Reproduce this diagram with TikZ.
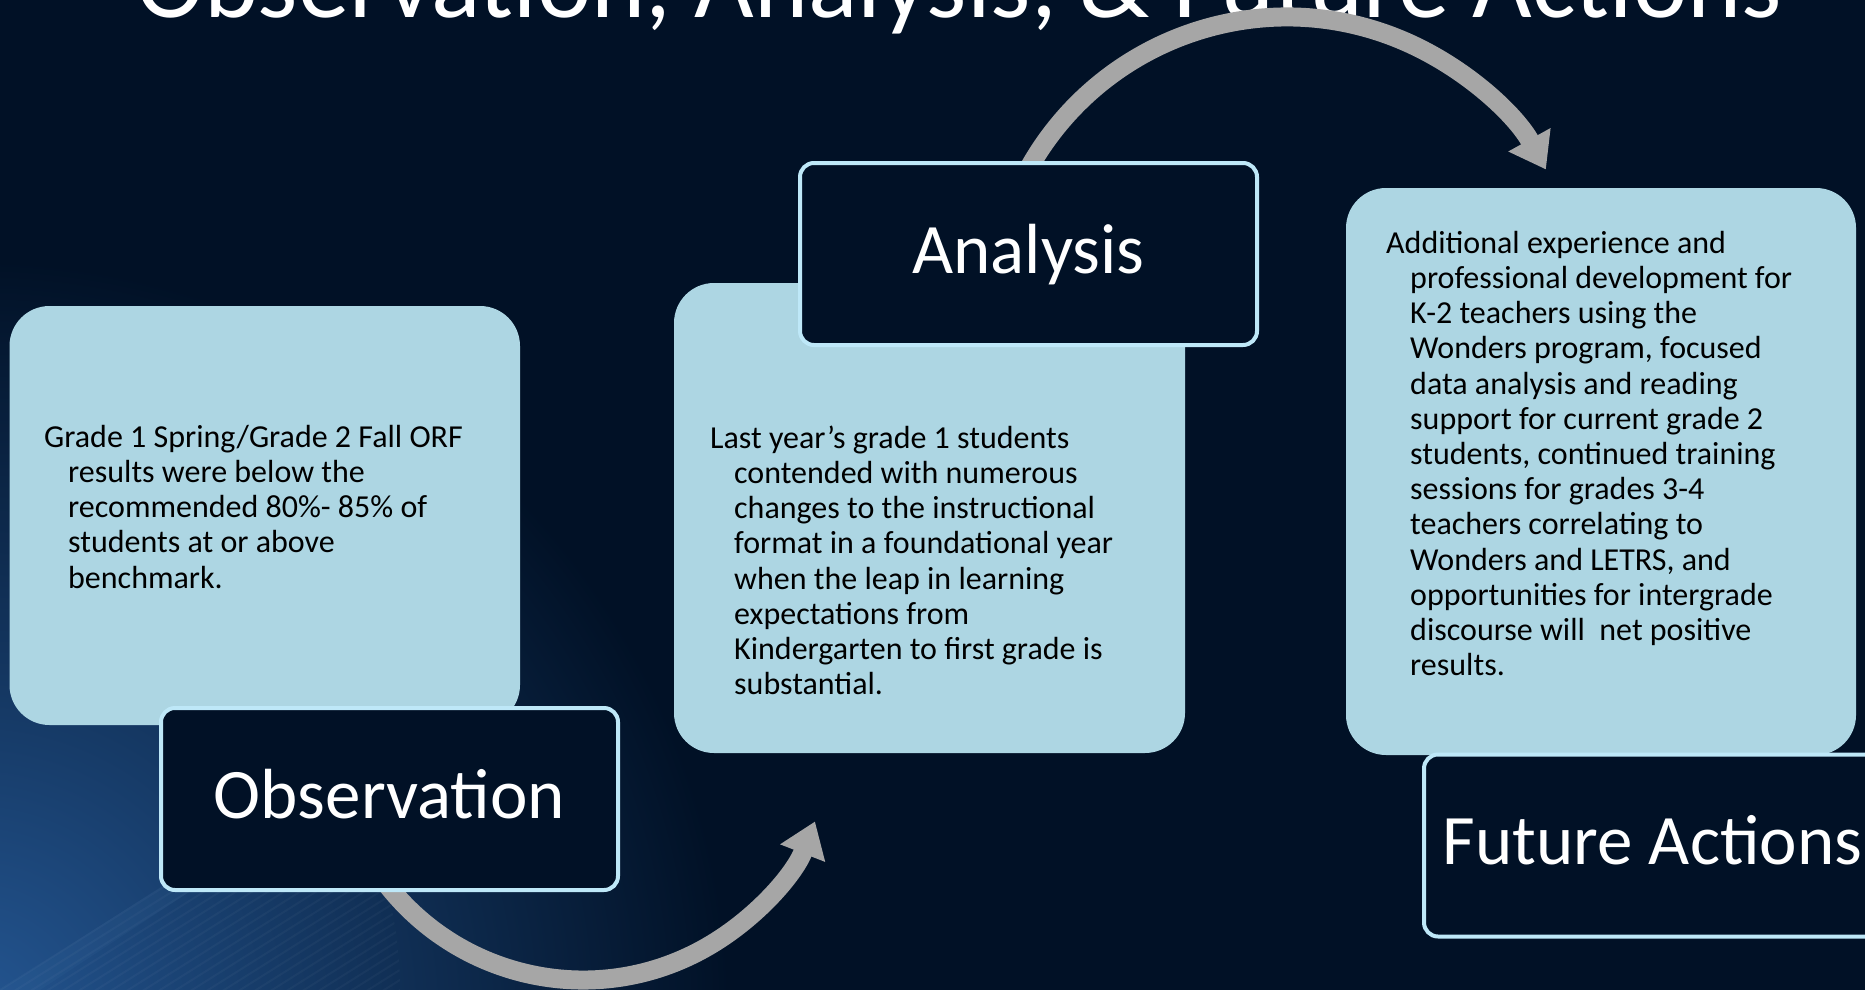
\documentclass[tikz,border=0pt]{standalone}
\usepackage{fontspec}
\setmainfont{Carlito}
\usetikzlibrary{arrows.meta}
\definecolor{bg}{RGB}{1,17,38}
\definecolor{boxblue}{RGB}{173,214,227}
\definecolor{rim}{RGB}{190,232,248}
\definecolor{arcgray}{RGB}{166,166,166}
\definecolor{streak}{RGB}{36,86,146}
\definecolor{glow}{RGB}{70,120,170}
\begin{document}
\begin{tikzpicture}[x=1pt,y=-1pt,
  descbox/.style={fill=boxblue, rounded corners=40pt, inner sep=0pt},
  desctext/.style={anchor=north west, inner sep=0pt, align=left, text=black,
    font=\fontsize{32}{35.2}\selectfont},
  labelbox/.style={draw=rim, line width=4pt, fill=bg, rounded corners=14pt,
    minimum width=457pt, minimum height=182pt, inner sep=0pt, text=white,
    text height=38pt, text depth=0pt, font=\fontsize{71}{80}\selectfont},
  cyclearrow/.style={draw=arcgray, line width=19pt,
    -{Triangle[length=34pt,width=46pt]}},
  streakline/.style={draw=white, opacity=0.03, line width=2pt},
]
\useasboundingbox (0,0) rectangle (1865,990);
\clip (0,0) rectangle (1865,990);
% background
\fill[bg] (0,0) rectangle (1865,990);
\shade[inner color=streak, outer color=bg] (-30,1020) circle (760);
\begin{scope}
\clip (0,990) circle (400);
\foreach \o in {0,16,...,420}{
  \draw[streakline] (\o-260,990+0.63*260) -- (\o+340,990-0.63*340);
}
\fill[glow, opacity=0.10] (0,990) -- (40,990) -- (420,740) -- (390,740) -- cycle;
\end{scope}
% title
\node[anchor=base, text=white, inner sep=0pt, font=\fontsize{103}{110}\selectfont]
  (title) at (959,18) {Observation, Analysis, \& Future Actions};
% cycle arrows
\coordinate (c1) at (583,731);
\coordinate (c2) at (1287,313);
\draw[cyclearrow] ([shift={(150:249)}]c1) arc[start angle=150, end angle=21.3, radius=249];
\draw[cyclearrow] ([shift={(-155:296)}]c2) arc[start angle=-155, end angle=-29, radius=296];
% description boxes
\node[descbox, minimum width=510.5pt, minimum height=419pt] (obsbox) at (264.75,515.5) {};
\node[descbox, minimum width=511pt, minimum height=470pt] (anabox) at (929.5,518) {};
\node[descbox, minimum width=510pt, minimum height=567pt] (futbox) at (1601,471.5) {};
% description texts
\node[desctext] (obstext) at (44,422.4) {\strut Grade 1 Spring/Grade 2 Fall ORF\\
\hspace*{24pt}results were below the\\
\hspace*{24pt}recommended 80\%- 85\% of\\
\hspace*{24pt}students at or above\\
\hspace*{24pt}benchmark.};
\node[desctext] (anatext) at (710,423.4) {\strut Last year’s grade 1 students\\
\hspace*{24pt}contended with numerous\\
\hspace*{24pt}changes to the instructional\\
\hspace*{24pt}format in a foundational year\\
\hspace*{24pt}when the leap in learning\\
\hspace*{24pt}expectations from\\
\hspace*{24pt}Kindergarten to first grade is\\
\hspace*{24pt}substantial.};
\node[desctext] (futtext) at (1386,228.4) {\strut Additional experience and\\
\hspace*{24pt}professional development for\\
\hspace*{24pt}K-2 teachers using the\\
\hspace*{24pt}Wonders program, focused\\
\hspace*{24pt}data analysis and reading\\
\hspace*{24pt}support for current grade 2\\
\hspace*{24pt}students, continued training\\
\hspace*{24pt}sessions for grades 3-4\\
\hspace*{24pt}teachers correlating to\\
\hspace*{24pt}Wonders and LETRS, and\\
\hspace*{24pt}opportunities for intergrade\\
\hspace*{24pt}discourse will\ \ net positive\\
\hspace*{24pt}results.};
% labels
\node[labelbox] (obslabel) at (389.5,799) {Observation};
\node[labelbox] (analabel) at (1028.5,254) {Analysis};
\node[labelbox] (futlabel) at (1652.5,845.5) {Future Actions};
\end{tikzpicture}
\end{document}
